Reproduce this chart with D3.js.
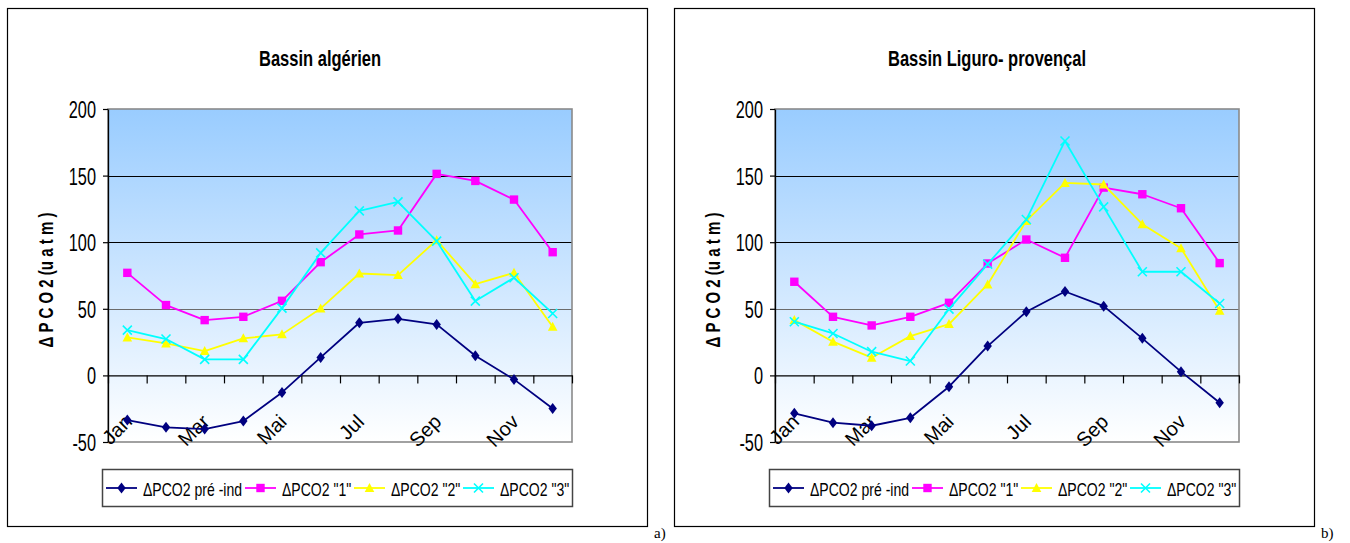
<!DOCTYPE html>
<html>
<head>
<meta charset="utf-8">
<script src="https://cdn.jsdelivr.net/npm/d3@7"></script>
<style>
  html, body { margin: 0; padding: 0; background: #fff; }
  svg { display: block; }
</style>
</head>
<body>
<svg id="chart" width="1350" height="543"></svg>
<script>
// Months along the x axis (only every other one is labelled)
const months = ["Jan", "Fév", "Mar", "Avr", "Mai", "Jun", "Jul", "Aoû", "Sep", "Oct", "Nov", "Déc"];
const yTicks = [-50, 0, 50, 100, 150, 200];
const gridValues = [50, 100, 150];
const seriesNames = ["ΔPCO2 pré -ind", "ΔPCO2 \"1\"", "ΔPCO2 \"2\"", "ΔPCO2 \"3\""];
const titles = ["Bassin algérien", "Bassin Liguro- provençal"];
const panelTags = ["a)", "b)"];

// Bassin algérien
const algPreInd = [-33.5, -39, -40.3, -34.3, -12.8, 13.5, 39.5, 42.5, 38.3, 14.8, -3, -24.8];
const alg1 = [77, 52.8, 41.5, 44, 56, 85, 105.8, 108.8, 151.3, 146, 132, 92.5];
const alg2 = [28.5, 24, 18.3, 27.8, 30.8, 50.3, 76.5, 75.3, 101.5, 68.5, 77, 36.5];
const alg3 = [34, 27.3, 12, 12, 50.5, 92, 123.5, 130.3, 100.8, 55.8, 73.3, 46.5];

// Bassin Liguro-provençal
const ligPreInd = [-28.5, -35.5, -37.8, -31.8, -8.5, 22, 47.8, 63, 52, 27.8, 2.8, -20.5];
const lig1 = [70.3, 44, 37.5, 44, 54.5, 84, 102, 88.3, 141, 136, 125.5, 84.3];
const lig2 = [41.5, 25.3, 13.3, 29.5, 38.5, 68.3, 116, 144.5, 143.3, 113.5, 95.5, 48.5];
const lig3 = [40.3, 31.5, 17.8, 10.8, 49.8, 83.5, 117, 176, 126.5, 77.8, 77.8, 54];

const panels = [
  { title: titles[0], tag: panelTags[0], series: [algPreInd, alg1, alg2, alg3] },
  { title: titles[1], tag: panelTags[1], series: [ligPreInd, lig1, lig2, lig3] }
];

const colors = ["#000080", "#FF00FF", "#FFFF00", "#00FFFF"];
const markerKinds = ["diamond", "square", "triangle", "cross"];

const svg = d3.select("#chart");

const defs = svg.append("defs");
const grad = defs.append("linearGradient")
  .attr("id", "plotBg").attr("x1", 0).attr("y1", 0).attr("x2", 0).attr("y2", 1);
grad.append("stop").attr("offset", "0%").attr("stop-color", "#99CCFF");
grad.append("stop").attr("offset", "100%").attr("stop-color", "#FFFFFF");

const SANS = "'Liberation Sans', Arial, sans-serif";

// Horizontally condensed text, anchored at (x, y)
function condensedText(parent, x, y, str, opts) {
  const g = parent.append("g")
    .attr("transform", `translate(${x},${y}) scale(${opts.sx},1)`);
  return g.append("text")
    .attr("x", 0).attr("y", 0)
    .attr("text-anchor", opts.anchor || "start")
    .attr("dominant-baseline", opts.baseline || "auto")
    .attr("font-family", SANS)
    .attr("font-size", opts.size)
    .attr("font-weight", opts.weight || "normal")
    .attr("fill", "#000")
    .text(str);
}

function drawMarker(sel, kind, color) {
  if (kind === "diamond") {
    sel.append("path").attr("d", "M0,-5.5L4.2,0L0,5.5L-4.2,0Z").attr("fill", color);
  } else if (kind === "square") {
    sel.append("rect").attr("x", -4.2).attr("y", -4.2).attr("width", 8.4).attr("height", 8.4).attr("fill", color);
  } else if (kind === "triangle") {
    sel.append("path").attr("d", "M0,-5L4.8,4L-4.8,4Z").attr("fill", color);
  } else {
    sel.append("path").attr("d", "M-4.5,-4.5L4.5,4.5M4.5,-4.5L-4.5,4.5")
      .attr("stroke", color).attr("stroke-width", 1.6).attr("fill", "none");
  }
}

panels.forEach((p, i) => {
  const g = svg.append("g").attr("transform", `translate(${i * 667},0)`);

  // outer frame
  g.append("rect").attr("x", 7.5).attr("y", 8.5).attr("width", 640).attr("height", 518)
    .attr("fill", "#fff").attr("stroke", "#000").attr("stroke-width", 1.2);

  const left = 108, right = 572, top = 109, bottom = 442;
  const y = d3.scaleLinear().domain([-50, 200]).range([bottom, top]);
  const x = d3.scaleBand().domain(months).range([left, right]);
  const xi = d3.scaleLinear().domain([0, months.length]).range([left, right]);
  const cx = m => x(m) + x.bandwidth() / 2;

  // plot area background
  g.append("rect").attr("x", left).attr("y", top)
    .attr("width", right - left).attr("height", bottom - top)
    .attr("fill", "url(#plotBg)");

  // gridlines
  g.selectAll(".grid").data(gridValues).join("line")
    .attr("x1", left).attr("x2", right)
    .attr("y1", d => Math.round(y(d)) + 0.5).attr("y2", d => Math.round(y(d)) + 0.5)
    .attr("stroke", d => d === 50 ? "#6b6b6b" : "#000").attr("stroke-width", 1);

  // plot frame
  g.append("rect").attr("x", left).attr("y", top)
    .attr("width", right - left).attr("height", bottom - top)
    .attr("fill", "none").attr("stroke", "#8a8a8a").attr("stroke-width", 1.6);

  // y axis
  const yAxis = g.append("g").attr("transform", `translate(${left},0)`)
    .call(d3.axisLeft(y).tickValues(yTicks).tickSize(5).tickSizeOuter(0).tickFormat(""));
  yAxis.select(".domain").attr("stroke", "#000").attr("stroke-width", 1.3);
  yAxis.selectAll(".tick line").attr("stroke", "#000").attr("stroke-width", 1.2);
  yTicks.forEach(v => {
    condensedText(g, 96, y(v) + 1, String(v), { sx: 0.71, size: 23, anchor: "end", baseline: "central" });
  });

  // x axis along the zero line, ticks at category boundaries
  const xAxis = g.append("g").attr("transform", `translate(0,${y(0)})`)
    .call(d3.axisBottom(xi).tickValues(d3.range(0, months.length + 1)).tickSize(8).tickSizeOuter(0).tickFormat(""));
  xAxis.select(".domain").attr("stroke", "#000").attr("stroke-width", 1.3);
  xAxis.selectAll(".tick line").attr("stroke", "#000").attr("stroke-width", 1.2);

  // month labels, every other month, slanted
  months.forEach((m, k) => {
    if (k % 2 !== 0) return;
    g.append("text")
      .attr("transform", `translate(${cx(m) + 6},${y(-50) - 19}) rotate(-45)`)
      .attr("text-anchor", "end")
      .attr("font-family", SANS).attr("font-size", 20)
      .attr("fill", "#000")
      .text(m);
  });

  // series lines and markers
  p.series.forEach((vals, s) => {
    const line = d3.line().x((d, k) => cx(months[k])).y(d => y(d));
    g.append("path").datum(vals).attr("d", line)
      .attr("fill", "none").attr("stroke", colors[s]).attr("stroke-width", 1.8)
      .attr("stroke-linejoin", "round");
    vals.forEach((v, k) => {
      const mg = g.append("g").attr("transform", `translate(${cx(months[k])},${y(v)})`);
      drawMarker(mg, markerKinds[s], colors[s]);
    });
  });

  // title
  condensedText(g, 320, 66, p.title, { sx: 0.75, size: 22, anchor: "middle", weight: "bold" });

  // y axis title
  g.append("text")
    .attr("transform", `translate(53,280) rotate(-90)`)
    .attr("text-anchor", "middle")
    .attr("font-family", SANS).attr("font-size", 21).attr("font-weight", "bold")
    .attr("textLength", 135).attr("lengthAdjust", "spacingAndGlyphs")
    .attr("fill", "#000")
    .text("Δ P C O 2 (u a t m )");

  // legend
  const lg = g.append("g");
  lg.append("rect").attr("x", 102.5).attr("y", 469.5).attr("width", 470).attr("height", 37)
    .attr("fill", "#fff").attr("stroke", "#444").attr("stroke-width", 1.5);
  const legendX = [106, 245, 354, 463];
  seriesNames.forEach((name, s) => {
    const lx = legendX[s];
    const ly = 488;
    lg.append("line").attr("x1", lx).attr("x2", lx + 31).attr("y1", ly).attr("y2", ly)
      .attr("stroke", colors[s]).attr("stroke-width", 1.8);
    drawMarker(lg.append("g").attr("transform", `translate(${lx + 15.5},${ly})`), markerKinds[s], colors[s]);
    condensedText(lg, lx + 37, ly + 1, name, { sx: 0.78, size: 18, anchor: "start", baseline: "central" });
  });

  // panel tag
  g.append("text").attr("x", 654).attr("y", 538)
    .attr("font-family", "'Liberation Serif', 'Times New Roman', serif").attr("font-size", 15)
    .attr("fill", "#000").text(p.tag);
});
</script>
</body>
</html>
